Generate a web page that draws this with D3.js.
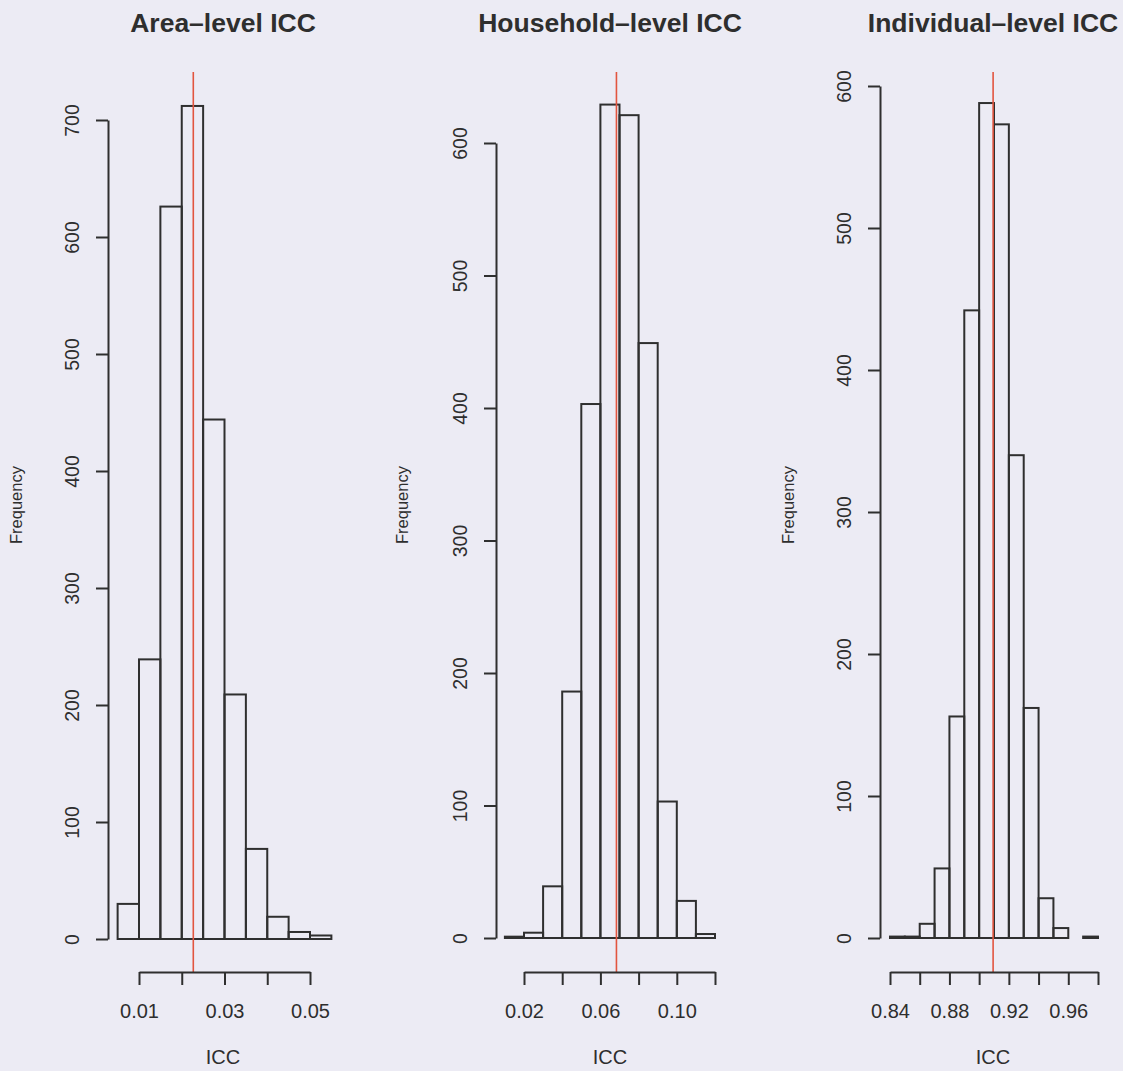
<!DOCTYPE html>
<html>
<head>
<meta charset="utf-8">
<script src="https://cdn.jsdelivr.net/npm/d3@7"></script>
<style>
  html, body { margin: 0; padding: 0; background: #ecebf4; }
  svg { display: block; }
  text { font-family: "Liberation Sans", Arial, Helvetica, sans-serif; fill: #2e2e2e; }
</style>
</head>
<body>
<svg id="chart" width="1123" height="1071"></svg>
<script>
// ---- data ----
const titles = ["Area\u2013level ICC", "Household\u2013level ICC", "Individual\u2013level ICC"];

const areaBinStart = 0.005, areaBinWidth = 0.005;
const areaCounts = [30, 239, 626, 712, 444, 209, 77, 19, 6, 3];
const areaRef = 0.0227;
const areaXTicks = [0.01, 0.02, 0.03, 0.04, 0.05];
const areaXLabels = ["0.01", "", "0.03", "", "0.05"];
const areaYTicks = [0, 100, 200, 300, 400, 500, 600, 700];

const hhBinStart = 0.01, hhBinWidth = 0.01;
const hhCounts = [1, 4, 39, 186, 403, 629, 621, 449, 103, 28, 3];
const hhRef = 0.0684;
const hhXTicks = [0.02, 0.04, 0.06, 0.08, 0.10, 0.12];
const hhXLabels = ["0.02", "", "0.06", "", "0.10", ""];
const hhYTicks = [0, 100, 200, 300, 400, 500, 600];

const indBinStart = 0.84, indBinWidth = 0.01;
const indCounts = [1, 1, 10, 49, 156, 442, 588, 573, 340, 162, 28, 7, 0, 1];
const indRef = 0.9094;
const indXTicks = [0.84, 0.86, 0.88, 0.90, 0.92, 0.94, 0.96, 0.98];
const indXLabels = ["0.84", "", "0.88", "", "0.92", "", "0.96", ""];
const indYTicks = [0, 100, 200, 300, 400, 500, 600];

const xLabel = "ICC";
const yLabel = "Frequency";

// ---- layout (pixel placement of each panel) ----
const panels = [
  { title: titles[0], start: areaBinStart, width: areaBinWidth, counts: areaCounts, ref: areaRef,
    xTicks: areaXTicks, xLabels: areaXLabels, yTicks: areaYTicks,
    xr: [139, 310], yr: [939, 120], axisX: 108, cx: 223, fx: 22 },
  { title: titles[1], start: hhBinStart, width: hhBinWidth, counts: hhCounts, ref: hhRef,
    xTicks: hhXTicks, xLabels: hhXLabels, yTicks: hhYTicks,
    xr: [524, 715], yr: [938, 143], axisX: 496, cx: 610, fx: 408 },
  { title: titles[2], start: indBinStart, width: indBinWidth, counts: indCounts, ref: indRef,
    xTicks: indXTicks, xLabels: indXLabels, yTicks: indYTicks,
    xr: [890, 1098], yr: [938, 86], axisX: 880, cx: 993, fx: 794 }
];

const plotTop = 72, axisY = 972;
const ink = "#2f2f2f";
const svg = d3.select("#chart");

panels.forEach(p => {
  const xt = p.xTicks;
  const yt = p.yTicks;
  const x = d3.scaleLinear().domain([xt[0], xt[xt.length - 1]]).range(p.xr);
  const y = d3.scaleLinear().domain([yt[0], yt[yt.length - 1]]).range(p.yr);

  const bins = p.counts.map((c, i) => ({ x0: p.start + i * p.width, x1: p.start + (i + 1) * p.width, c }));

  const g = svg.append("g");

  // bars
  g.selectAll("rect.bar").data(bins).enter().append("rect")
    .attr("class", "bar")
    .attr("x", d => x(d.x0))
    .attr("width", d => x(d.x1) - x(d.x0))
    .attr("y", d => y(d.c))
    .attr("height", d => y(0) - y(d.c))
    .attr("fill", "none")
    .attr("stroke", ink)
    .attr("stroke-width", 2);

  // reference line
  g.append("line")
    .attr("x1", x(p.ref)).attr("x2", x(p.ref))
    .attr("y1", plotTop).attr("y2", axisY)
    .attr("stroke", "#e2553f").attr("stroke-width", 1.6);

  // y axis
  const ya = g.append("g").attr("transform", `translate(${p.axisX},0)`)
    .call(d3.axisLeft(y).tickValues(yt).tickSize(12).tickSizeOuter(0).tickFormat(d3.format("d")));
  ya.select(".domain").attr("stroke", ink).attr("stroke-width", 2);
  ya.selectAll(".tick line").attr("stroke", ink).attr("stroke-width", 2);
  ya.selectAll(".tick text")
    .attr("x", null).attr("dy", null)
    .attr("transform", "translate(-29,0) rotate(-90)")
    .attr("text-anchor", "middle")
    .style("font-size", "19.5px")
    .style("font-family", "'Liberation Sans', Arial, sans-serif")
    .attr("fill", ink);

  // x axis
  const xa = g.append("g").attr("transform", `translate(0,${axisY})`)
    .call(d3.axisBottom(x).tickValues(xt).tickSize(13).tickSizeOuter(0)
      .tickFormat((d, i) => p.xLabels[i]));
  xa.select(".domain").attr("stroke", ink).attr("stroke-width", 2);
  xa.selectAll(".tick line").attr("stroke", ink).attr("stroke-width", 2);
  xa.selectAll(".tick text")
    .attr("y", 46).attr("dy", null)
    .style("font-size", "20px")
    .style("font-family", "'Liberation Sans', Arial, sans-serif")
    .attr("fill", ink);

  // title
  g.append("text")
    .attr("x", p.cx).attr("y", 32)
    .attr("text-anchor", "middle")
    .style("font-size", "26.5px").style("font-weight", "bold")
    .text(p.title);

  // x label
  g.append("text")
    .attr("x", p.cx)
    .attr("y", 1064)
    .attr("text-anchor", "middle")
    .style("font-size", "20px")
    .text(xLabel);

  // y label
  g.append("text")
    .attr("transform", `translate(${p.fx},505) rotate(-90)`)
    .attr("text-anchor", "middle")
    .style("font-size", "16.5px")
    .text(yLabel);
});
</script>
</body>
</html>
